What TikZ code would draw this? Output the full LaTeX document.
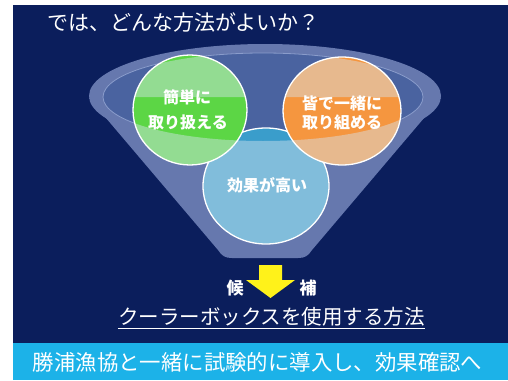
\documentclass[tikz,border=0pt]{standalone}
\usepackage{fontspec}
\newfontfamily\jp{Noto Sans CJK JP}
\usetikzlibrary{shapes.geometric}
\definecolor{navy}{HTML}{0B1E5C}
\definecolor{band}{HTML}{1CB2E8}
\definecolor{funnel}{HTML}{6678AE}
\definecolor{funnelin}{HTML}{4A63A0}
\definecolor{rimline}{HTML}{8A9CCB}
\definecolor{greenc}{HTML}{5CD645}
\definecolor{orangec}{HTML}{F5963F}
\definecolor{bluec}{HTML}{3A9DCB}
\definecolor{veil}{HTML}{D8E4F0}
\definecolor{arrowy}{HTML}{FFF21A}
\begin{document}
\begin{tikzpicture}[x=1pt,y=-1pt,
  cjk/.style={font=\jp\fontsize{#1}{#1}\selectfont, text=white, inner sep=0pt,
              text height={0.88*#1pt}, text depth={0.12*#1pt}},
  cjk/.default=16,
  cjkb/.style={cjk=#1, font=\jp\bfseries\fontsize{#1}{#1}\selectfont},
  cjkb/.default=16,
  ball/.style={ellipse, draw=white, line width=1.3pt, inner sep=0pt},
  veilfill/.style={fill=veil, opacity=0.45, even odd rule}]
\useasboundingbox (0,0) rectangle (508,380);
\fill[white] (0,0) rectangle (508,380);
\fill[navy] (13,5) rectangle (508,343);
\fill[band] (13,343) rectangle (508,380);

% funnel
\fill[funnel] (89,98) -- (218,250) .. controls (222,256) and (225,258) .. (232,258) -- (298,258) .. controls (305,258) and (308,256) .. (312,250) -- (441,98) -- cycle;
\fill[funnel] (265,96) ellipse [x radius=176, y radius=52];
\fill[funnelin, draw=rimline, line width=0.8pt] (263,97) ellipse [x radius=160, y radius=44];

% blue circle
\fill[bluec] (266,186) ellipse [x radius=63, y radius=58];
\begin{scope}
  \clip (266,186) ellipse [x radius=63, y radius=58];
  \fill[veilfill] (0,97) rectangle (508,300) (263,97) ellipse [x radius=160, y radius=44];
\end{scope}
\node[ball, minimum width=126pt, minimum height=116pt] (koka) at (266,186) {};
\node[cjkb] (kokat) at (267,185) {効果が高い};

% green circle
\fill[greenc] (190,110) ellipse [x radius=57, y radius=55];
\begin{scope}
  \clip (190,110) ellipse [x radius=57, y radius=55];
  \fill[veilfill] (0,97) rectangle (508,300) (263,97) ellipse [x radius=160, y radius=44];
\end{scope}
\node[ball, minimum width=114pt, minimum height=110pt] (kantan) at (190,110) {};
\node[cjkb] (kantan1) at (187,97) {簡単に};
\node[cjkb] (kantan2) at (188,122) {取り扱える};

% orange circle
\fill[orangec] (342,111) ellipse [x radius=59, y radius=54];
\begin{scope}
  \clip (342,111) ellipse [x radius=59, y radius=54];
  \fill[veilfill] (0,97) rectangle (508,300) (263,97) ellipse [x radius=160, y radius=44];
\end{scope}
\node[ball, minimum width=118pt, minimum height=108pt] (mina) at (342,111) {};
\node[cjkb] (mina1) at (342,103) {皆で一緒に};
\node[cjkb] (mina2) at (342,122) {取り組める};

% title
\node[cjk=21, anchor=west] (title) at (47,23) {では、どんな方法がよいか？};

% arrow
\fill[arrowy] (259,265) -- (282,265) -- (282,280) -- (295,280) -- (270.5,298) -- (246,280) -- (259,280) -- cycle;
\node[cjkb=17] (ko) at (235,288) {候};
\node[cjkb=17] (ho) at (308,288) {補};

% candidate
\node[cjk=20.5] (cand) at (271.5,317) {クーラーボックスを使用する方法};
\draw[white, line width=1pt] ([yshift=-1pt]cand.south west) -- ([yshift=-1pt]cand.south east);

% bottom band
\node[cjk=21.4] (plan) at (257.5,362) {勝浦漁協と一緒に試験的に導入し、効果確認へ};
\end{tikzpicture}
\end{document}
